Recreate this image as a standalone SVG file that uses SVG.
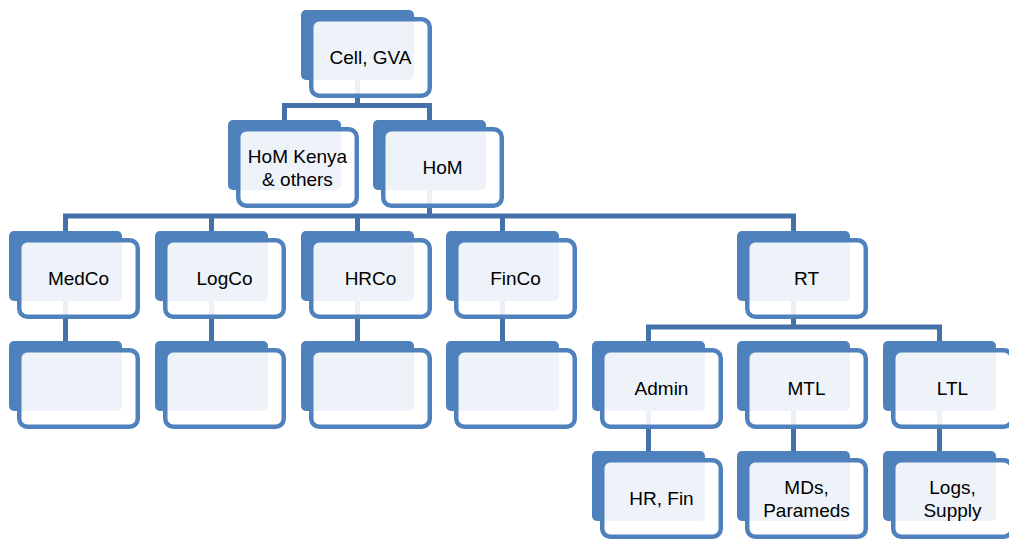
<svg xmlns="http://www.w3.org/2000/svg" width="1009" height="539" viewBox="0 0 1009 539">
<style>
.back{fill:#4F81BD}
.front{fill:#FFFFFF;fill-opacity:0.9;stroke:#4F81BD;stroke-width:4.5}
.conn{fill:none;stroke:#4571AB;stroke-width:5;stroke-linecap:butt;stroke-linejoin:miter}
text{font-family:"Liberation Sans",Arial,sans-serif;font-size:19px;fill:#000;text-anchor:middle}
</style>
<defs>
<g id="card">
<rect class="back" x="0" y="0" width="113" height="70" rx="5"/>
<rect class="front" x="10.25" y="9.25" width="118.5" height="76.5" rx="8"/>
</g>
</defs>
<g id="connectors">
<path class="conn" d="M357.5 80V105.5M284.5 120V105.5H429.5V120"/>
<path class="conn" d="M429.5 190V216M65.5 231V216H793.5V231M211.5 216V231M357.5 216V231M502.5 216V231"/>
<path class="conn" d="M65.5 300V341M211.5 300V341M357.5 300V341M502.5 300V341"/>
<path class="conn" d="M793.5 300V327M648.5 341V327H939.5V341"/>
<path class="conn" d="M648.5 410V451M793.5 410V451M939.5 410V451"/>
</g>
<g id="cell"><use href="#card" x="301" y="10"/><text x="370.5" y="64">Cell, GVA</text></g>
<g id="homkenya"><use href="#card" x="228" y="120"/><text x="297.5" y="162.5">HoM Kenya</text><text x="297.5" y="186">&amp; others</text></g>
<g id="hom"><use href="#card" x="373" y="120"/><text x="442.5" y="174">HoM</text></g>
<g id="medco"><use href="#card" x="9" y="231"/><text x="78.5" y="285">MedCo</text></g>
<g id="logco"><use href="#card" x="155" y="231"/><text x="224.5" y="285">LogCo</text></g>
<g id="hrco"><use href="#card" x="301" y="231"/><text x="370.5" y="285">HRCo</text></g>
<g id="finco"><use href="#card" x="446" y="231"/><text x="515.5" y="285">FinCo</text></g>
<g id="rt"><use href="#card" x="737" y="231"/><text x="806.5" y="285">RT</text></g>
<g id="medco-sub"><use href="#card" x="9" y="341"/></g>
<g id="logco-sub"><use href="#card" x="155" y="341"/></g>
<g id="hrco-sub"><use href="#card" x="301" y="341"/></g>
<g id="finco-sub"><use href="#card" x="446" y="341"/></g>
<g id="admin"><use href="#card" x="592" y="341"/><text x="661.5" y="395">Admin</text></g>
<g id="mtl"><use href="#card" x="737" y="341"/><text x="806.5" y="395">MTL</text></g>
<g id="ltl"><use href="#card" x="883" y="341"/><text x="952.5" y="395">LTL</text></g>
<g id="hrfin"><use href="#card" x="592" y="451"/><text x="661.5" y="505">HR, Fin</text></g>
<g id="mds"><use href="#card" x="737" y="451"/><text x="806.5" y="493.5">MDs,</text><text x="806.5" y="517">Parameds</text></g>
<g id="logs"><use href="#card" x="883" y="451"/><text x="952.5" y="493.5">Logs,</text><text x="952.5" y="517">Supply</text></g>
</svg>
